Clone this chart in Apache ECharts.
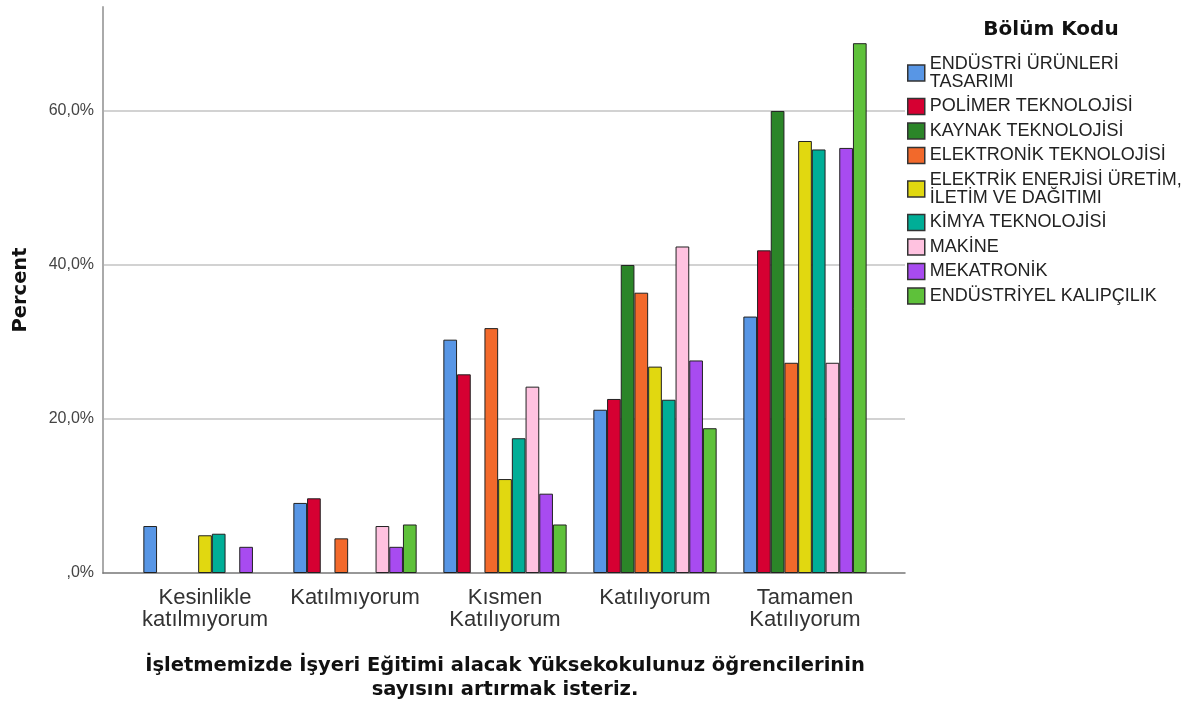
<!DOCTYPE html>
<html>
<head>
<meta charset="utf-8">
<script src="https://cdn.jsdelivr.net/npm/echarts@6/dist/echarts.min.js"></script>
<style>
  html, body { margin: 0; padding: 0; background: #fff; }
  #chart { width: 1200px; height: 701px; }
</style>
</head>
<body>
<div id="chart"></div>
<script>
// answer categories (x axis)
const categories = ['Kesinlikle\nkatılmıyorum', 'Katılmıyorum', 'Kısmen\nKatılıyorum', 'Katılıyorum', 'Tamamen\nKatılıyorum']

// department names (legend)
const departments = [
  'ENDÜSTRİ ÜRÜNLERİ\nTASARIMI',
  'POLİMER TEKNOLOJİSİ',
  'KAYNAK TEKNOLOJİSİ',
  'ELEKTRONİK TEKNOLOJİSİ',
  'ELEKTRİK ENERJİSİ ÜRETİM,\nİLETİM VE DAĞITIMI',
  'KİMYA TEKNOLOJİSİ',
  'MAKİNE',
  'MEKATRONİK',
  'ENDÜSTRİYEL KALIPÇILIK'
]

// percent per department, one value per category ('-' = no bar)
const endustriUrunleri = [6.1, 9.1, 30.3, 21.2, 33.3]
const polimer = ['-', 9.7, 25.8, 22.6, 41.9]
const kaynak = ['-', '-', '-', 40.0, 60.0]
const elektronik = ['-', 4.5, 31.8, 36.4, 27.3]
const elektrik = [4.9, '-', 12.2, 26.8, 56.1]
const kimya = [5.1, '-', 17.5, 22.5, 55.0]
const makine = ['-', 6.1, 24.2, 42.4, 27.3]
const mekatronik = [3.4, 3.4, 10.3, 27.6, 55.2]
const kalipcilik = ['-', 6.3, 6.3, 18.8, 68.8]

const seriesValues = [endustriUrunleri, polimer, kaynak, elektronik, elektrik, kimya, makine, mekatronik, kalipcilik]
const colors = ['#5896E5', '#D60032', '#2B8528', '#F2692B', '#E1D810', '#00AE97', '#FFC2E0', '#A84BF0', '#5EC13A']

const yTicks = [0, 20, 40, 60]
const yMax = 73.5

const chart = echarts.init(document.getElementById('chart'))

const series = seriesValues.map((vals, i) => {
  return {
    name: departments[i],
    type: 'bar',
    xAxisIndex: 1,
    yAxisIndex: 1,
    data: vals,
    barGap: '0%',
    barCategoryGap: '17.8%',
    itemStyle: {
      color: colors[i],
      borderColor: '#222',
      borderWidth: 1
    }
  }
})

const option = {
  animation: false,
  backgroundColor: '#fff',
  title: {
    text: 'Bölüm Kodu',
    left: 1051,
    top: 20,
    padding: 0,
    textAlign: 'center',
    textStyle: {
      fontFamily: 'DejaVu Sans',
      fontWeight: 'bold',
      fontSize: 20,
      color: '#111'
    }
  },
  legend: {
    orient: 'vertical',
    left: 907,
    top: 55,
    padding: 0,
    icon: 'rect',
    itemWidth: 17,
    itemHeight: 16,
    itemGap: 6.5,
    itemStyle: { borderColor: '#333', borderWidth: 1.5 },
    data: departments,
    textStyle: {
      fontFamily: 'Liberation Sans',
      fontSize: 18,
      lineHeight: 18,
      color: '#222'
    }
  },
  grid: [
    { left: 103, right: 295, top: 7, bottom: 128, outerBoundsMode: 'none' },
    { left: 130, right: 320, top: 7, bottom: 128, outerBoundsMode: 'none' }
  ],
  xAxis: [
    {
      gridIndex: 0,
      type: 'value',
      min: 0,
      max: 1,
      axisLine: { show: true, lineStyle: { color: '#777', width: 1.5 } },
      axisTick: { show: false },
      axisLabel: { show: false },
      splitLine: { show: false }
    },
    {
      gridIndex: 1,
      type: 'category',
      data: categories,
      axisLine: { show: false },
      axisTick: { show: false },
      axisLabel: {
        interval: 0,
        margin: 14,
        fontFamily: 'Liberation Sans',
        fontSize: 22,
        lineHeight: 22,
        color: '#333'
      },
      name: 'İşletmemizde İşyeri Eğitimi alacak Yüksekokulunuz öğrencilerinin\nsayısını artırmak isteriz.',
      nameLocation: 'middle',
      nameGap: 81,
      nameTextStyle: {
        fontFamily: 'DejaVu Sans',
        fontWeight: 'bold',
        fontSize: 19.5,
        lineHeight: 24,
        color: '#111'
      }
    }
  ],
  yAxis: [
    {
      gridIndex: 0,
      type: 'value',
      min: 0,
      max: yMax,
      interval: 20,
      axisLine: { show: true, lineStyle: { color: '#aaa', width: 2 } },
      axisTick: { show: false },
      axisLabel: {
        margin: 9,
        showMaxLabel: false,
        fontFamily: 'Liberation Sans',
        fontSize: 16,
        color: '#444',
        formatter: function (v) {
          if (yTicks.indexOf(v) < 0) {
            return ''
          }
          return v === 0 ? ',0%' : v.toFixed(1).replace('.', ',') + '%'
        }
      },
      splitLine: {
        show: true,
        lineStyle: {
          color: ['rgba(0,0,0,0)', '#d2d2d2', '#d2d2d2', '#d2d2d2', 'rgba(0,0,0,0)'],
          width: 2
        }
      },
      name: 'Percent',
      nameLocation: 'middle',
      nameGap: 72,
      nameTextStyle: {
        fontFamily: 'DejaVu Sans',
        fontWeight: 'bold',
        fontSize: 19.5,
        color: '#111'
      }
    },
    {
      gridIndex: 1,
      type: 'value',
      min: 0,
      max: yMax,
      show: false
    }
  ],
  series: series
}

chart.setOption(option)
</script>
</body>
</html>
